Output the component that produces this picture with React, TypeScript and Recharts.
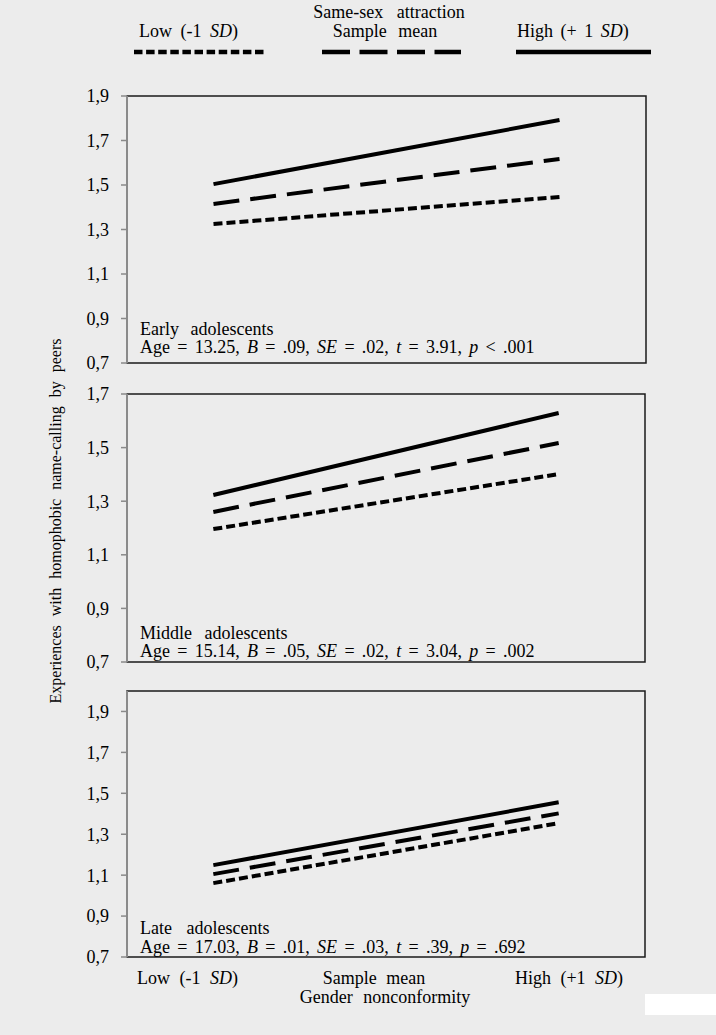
import React from 'react';
import { LineChart, Line, XAxis, YAxis, ReferenceArea } from 'recharts';

const FONT = '"Liberation Serif", "Times New Roman", serif';
const BG = '#ececec';

// x levels of gender nonconformity (-1 SD, +1 SD)
const xLevels = [-1, 1];

// Early adolescents
const earlyLow = [1.325, 1.446];
const earlyMean = [1.415, 1.617];
const earlyHigh = [1.504, 1.792];
// Middle adolescents
const middleLow = [1.196, 1.401];
const middleMean = [1.26, 1.517];
const middleHigh = [1.323, 1.629];
// Late adolescents
const lateLow = [1.061, 1.354];
const lateMean = [1.105, 1.402];
const lateHigh = [1.149, 1.456];

const ticksA = [0.7, 0.9, 1.1, 1.3, 1.5, 1.7, 1.9];
const ticksB = [0.7, 0.9, 1.1, 1.3, 1.5, 1.7];

const xTickLabels = ['Low (-1 SD)', 'Sample mean', 'High (+1 SD)'];
const xTickValues = [-1.15, -0.07, 1.06];

const build = (low: number[], mean: number[], high: number[]) =>
  xLevels.map((x, i) => ({ x, low: low[i], mean: mean[i], high: high[i] }));

const fmt = (v: number) => v.toFixed(1).replace('.', ',');

const renderItalicSD = (label: string) => {
  const idx = label.indexOf('SD');
  if (idx < 0) return label;
  return (
    <>
      {label.slice(0, idx)}
      <tspan fontStyle="italic">SD</tspan>
      {label.slice(idx + 2)}
    </>
  );
};

const XTick = (props: any) => {
  const { x, y, index } = props;
  const label = xTickLabels[index] ?? '';
  return (
    <text x={x} y={y + 27} textAnchor="middle" fontFamily={FONT} fontSize={18} fill="#000" style={{ wordSpacing: 5 }}>
      {renderItalicSD(label)}
    </text>
  );
};

type PanelProps = {
  top: number;
  height: number;
  margin: { top: number; right: number; bottom: number; left: number };
  data: any[];
  yMax: number;
  ticks: number[];
  showX?: boolean;
};

const Panel = ({ top, height, margin, data, yMax, ticks, showX }: PanelProps) => (
  <div style={{ position: 'absolute', left: 0, top, width: 716, height }}>
    <LineChart width={716} height={height} data={data} margin={margin}>
      <ReferenceArea x1={-1.5} x2={1.5} y1={0.7} y2={yMax} fill="none" stroke="#1a1a1a" strokeWidth={1.5} ifOverflow="visible" />
      <XAxis
        type="number"
        dataKey="x"
        domain={[-1.5, 1.5]}
        allowDataOverflow
        hide={!showX}
        height={showX ? 60 : 0}
        ticks={showX ? xTickValues : undefined}
        tick={showX ? <XTick /> : false}
        tickLine={false}
        axisLine={false}
        tickSize={0}
        tickMargin={0}
        interval={0}
      />
      <YAxis
        type="number"
        domain={[0.7, yMax]}
        ticks={ticks}
        allowDataOverflow
        width={60}
        tickFormatter={fmt}
        tick={{ fill: '#000', fontSize: 18, fontFamily: FONT }}
        tickLine={{ stroke: '#8a8a8a', strokeWidth: 1.5 }}
        tickSize={6}
        tickMargin={12}
        axisLine={{ stroke: '#8a8a8a', strokeWidth: 2 }}
        interval={0}
      />
      <Line type="linear" dataKey="low" stroke="#000" strokeWidth={4} strokeDasharray="9 4" dot={false} isAnimationActive={false} />
      <Line type="linear" dataKey="mean" stroke="#000" strokeWidth={4} strokeDasharray="26 11" dot={false} isAnimationActive={false} />
      <Line type="linear" dataKey="high" stroke="#000" strokeWidth={4} dot={false} isAnimationActive={false} />
    </LineChart>
  </div>
);

const StatLine = ({ x, y, age, B, SE, t, p, rel }: any) => (
  <text x={x} y={y} fontFamily={FONT} fontSize={18} fill="#000" style={{ wordSpacing: 2.8 }}>
    {`Age = ${age}, `}
    <tspan fontStyle="italic">B</tspan>
    {` = ${B}, `}
    <tspan fontStyle="italic">SE</tspan>
    {` = ${SE}, `}
    <tspan fontStyle="italic">t</tspan>
    {` = ${t}, `}
    <tspan fontStyle="italic">p</tspan>
    {` ${rel} ${p}`}
  </text>
);

export default function App() {
  return (
    <div style={{ position: 'absolute', left: 0, top: 0, width: 716, height: 1035, background: BG, overflow: 'hidden' }}>
      <Panel
        top={0}
        height={380}
        margin={{ top: 96, right: 70, bottom: 17, left: 67 }}
        data={build(earlyLow, earlyMean, earlyHigh)}
        yMax={1.9}
        ticks={ticksA}
      />
      <Panel
        top={380}
        height={300}
        margin={{ top: 14, right: 71, bottom: 18, left: 67 }}
        data={build(middleLow, middleMean, middleHigh)}
        yMax={1.7}
        ticks={ticksB}
      />
      <Panel
        top={680}
        height={355}
        margin={{ top: 11, right: 71, bottom: 18, left: 67 }}
        data={build(lateLow, lateMean, lateHigh)}
        yMax={2.0}
        ticks={ticksA}
        showX
      />
      <svg width={716} height={1035} style={{ position: 'absolute', left: 0, top: 0, pointerEvents: 'none' }}>
        {/* Legend */}
        <text x={389} y={18} textAnchor="middle" fontFamily={FONT} fontSize={18} fill="#000" style={{ wordSpacing: 9 }}>Same-sex attraction</text>
        <text x={139} y={37} fontFamily={FONT} fontSize={18} fill="#000" style={{ wordSpacing: 4 }}>
          Low (-1 <tspan fontStyle="italic">SD</tspan>)
        </text>
        <text x={385} y={37} textAnchor="middle" fontFamily={FONT} fontSize={18} fill="#000" style={{ wordSpacing: 7 }}>Sample mean</text>
        <text x={517} y={37} fontFamily={FONT} fontSize={18} fill="#000" style={{ wordSpacing: 3 }}>
          High (+ 1 <tspan fontStyle="italic">SD</tspan>)
        </text>
        <line x1={134} x2={267} y1={52} y2={52} stroke="#000" strokeWidth={4.5} strokeDasharray="8.5 3.6" />
        <line x1={322} x2={461} y1={52} y2={52} stroke="#000" strokeWidth={4.5} strokeDasharray="28 9.5" />
        <line x1={516} x2={651} y1={52} y2={52} stroke="#000" strokeWidth={4.5} />

        {/* Y axis title */}
        <text
          transform="translate(61,521) rotate(-90)"
          textAnchor="middle"
          fontFamily={FONT}
          fontSize={16}
          fill="#000"
          style={{ wordSpacing: 5 }}
        >
          Experiences with homophobic name-calling by peers
        </text>

        {/* Panel annotations */}
        <text x={140} y={335} fontFamily={FONT} fontSize={18} fill="#000" style={{ wordSpacing: 7 }}>Early adolescents</text>
        <StatLine x={140} y={353} age="13.25" B=".09" SE=".02" t="3.91" rel="<" p=".001" />

        <text x={140} y={639} fontFamily={FONT} fontSize={18} fill="#000" style={{ wordSpacing: 8 }}>Middle adolescents</text>
        <StatLine x={140} y={657} age="15.14" B=".05" SE=".02" t="3.04" rel="=" p=".002" />

        <text x={140} y={934} fontFamily={FONT} fontSize={18} fill="#000" style={{ wordSpacing: 10 }}>Late adolescents</text>
        <StatLine x={140} y={953} age="17.03" B=".01" SE=".03" t=".39" rel="=" p=".692" />

        {/* X axis title */}
        <text x={385} y={1003} textAnchor="middle" fontFamily={FONT} fontSize={18} fill="#000" style={{ wordSpacing: 6 }}>Gender nonconformity</text>

        <rect x={645} y={994} width={71} height={21} fill="#fff" />
      </svg>
    </div>
  );
}
